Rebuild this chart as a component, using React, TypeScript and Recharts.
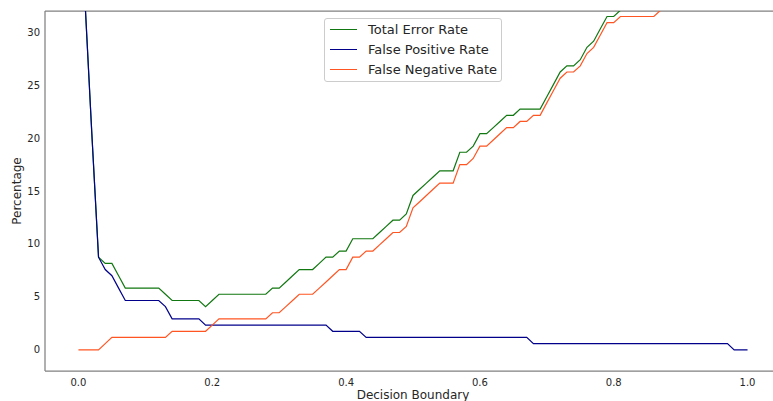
import { Legend, Line, LineChart, ReferenceLine, XAxis, YAxis } from "recharts";

const FONT = "'DejaVu Sans', sans-serif";
const TEXT = "#262626";
const SPINE = "#808080";

const COLORS = {
  total: "#117711",
  fpr: "#00008b",
  fnr: "#ff5522",
};

const SERIES_ORDER = ["Total Error Rate", "False Positive Rate", "False Negative Rate"];

const thresholds = [
  0, 0.01, 0.02, 0.03, 0.04, 0.05, 0.06, 0.07, 0.08, 0.09,
  0.1, 0.11, 0.12, 0.13, 0.14, 0.15, 0.16, 0.17, 0.18, 0.19,
  0.2, 0.21, 0.22, 0.23, 0.24, 0.25, 0.26, 0.27, 0.28, 0.29,
  0.3, 0.31, 0.32, 0.33, 0.34, 0.35, 0.36, 0.37, 0.38, 0.39,
  0.4, 0.41, 0.42, 0.43, 0.44, 0.45, 0.46, 0.47, 0.48, 0.49,
  0.5, 0.51, 0.52, 0.53, 0.54, 0.55, 0.56, 0.57, 0.58, 0.59,
  0.6, 0.61, 0.62, 0.63, 0.64, 0.65, 0.66, 0.67, 0.68, 0.69,
  0.7, 0.71, 0.72, 0.73, 0.74, 0.75, 0.76, 0.77, 0.78, 0.79,
  0.8, 0.81, 0.82, 0.83, 0.84, 0.85, 0.86, 0.87, 0.88, 0.89,
  0.9, 0.91, 0.92, 0.93, 0.94, 0.95, 0.96, 0.97, 0.98, 0.99,
  1.0,
];

const totalErrorRate = [
  100, 32.65, 20.41, 8.75, 8.16, 8.16, 7.0, 5.83, 5.83, 5.83,
  5.83, 5.83, 5.83, 5.25, 4.66, 4.66, 4.66, 4.66, 4.66, 4.08,
  4.66, 5.25, 5.25, 5.25, 5.25, 5.25, 5.25, 5.25, 5.25, 5.83,
  5.83, 6.41, 7.0, 7.58, 7.58, 7.58, 8.16, 8.75, 8.75, 9.33,
  9.33, 10.49, 10.49, 10.49, 10.49, 11.08, 11.66, 12.24, 12.24, 12.83,
  14.58, 15.16, 15.74, 16.32, 16.91, 16.91, 16.91, 18.66, 18.66, 19.24,
  20.41, 20.41, 20.99, 21.57, 22.15, 22.15, 22.74, 22.74, 22.74, 22.74,
  23.9, 25.07, 26.24, 26.82, 26.82, 27.4, 28.57, 29.15, 30.32, 31.48,
  31.48, 32.07, 32.07, 32.07, 32.07, 32.07, 32.07, 32.65, 33.81, 34.98,
  36.73, 38.48, 40.81, 43.73, 47.22, 51.89, 57.13, 63.55, 71.13, 81.62,
  100,
];

const falsePositiveRate = [
  100, 32.65, 20.41, 8.75, 7.58, 7.0, 5.83, 4.66, 4.66, 4.66,
  4.66, 4.66, 4.66, 4.08, 2.92, 2.92, 2.92, 2.92, 2.92, 2.33,
  2.33, 2.33, 2.33, 2.33, 2.33, 2.33, 2.33, 2.33, 2.33, 2.33,
  2.33, 2.33, 2.33, 2.33, 2.33, 2.33, 2.33, 2.33, 1.75, 1.75,
  1.75, 1.75, 1.75, 1.17, 1.17, 1.17, 1.17, 1.17, 1.17, 1.17,
  1.17, 1.17, 1.17, 1.17, 1.17, 1.17, 1.17, 1.17, 1.17, 1.17,
  1.17, 1.17, 1.17, 1.17, 1.17, 1.17, 1.17, 1.17, 0.58, 0.58,
  0.58, 0.58, 0.58, 0.58, 0.58, 0.58, 0.58, 0.58, 0.58, 0.58,
  0.58, 0.58, 0.58, 0.58, 0.58, 0.58, 0.58, 0.58, 0.58, 0.58,
  0.58, 0.58, 0.58, 0.58, 0.58, 0.58, 0.58, 0.58, 0, 0,
  0,
];

const falseNegativeRate = [
  0, 0, 0, 0, 0.58, 1.17, 1.17, 1.17, 1.17, 1.17,
  1.17, 1.17, 1.17, 1.17, 1.75, 1.75, 1.75, 1.75, 1.75, 1.75,
  2.33, 2.92, 2.92, 2.92, 2.92, 2.92, 2.92, 2.92, 2.92, 3.5,
  3.5, 4.08, 4.66, 5.25, 5.25, 5.25, 5.83, 6.41, 7.0, 7.58,
  7.58, 8.75, 8.75, 9.33, 9.33, 9.91, 10.49, 11.08, 11.08, 11.66,
  13.41, 13.99, 14.58, 15.16, 15.74, 15.74, 15.74, 17.49, 17.49, 18.07,
  19.24, 19.24, 19.82, 20.41, 20.99, 20.99, 21.57, 21.57, 22.15, 22.15,
  23.32, 24.49, 25.65, 26.24, 26.24, 26.82, 27.98, 28.57, 29.73, 30.9,
  30.9, 31.48, 31.48, 31.48, 31.48, 31.48, 31.48, 32.07, 33.23, 34.4,
  36.15, 37.9, 40.23, 43.14, 46.64, 51.3, 56.55, 62.96, 71.13, 81.62,
  100,
];

const xTicks = [0, 0.2, 0.4, 0.6, 0.8, 1.0];
const yTicks = [0, 5, 10, 15, 20, 25, 30];

const data = thresholds.map((x, i) => ({
  x,
  total: totalErrorRate[i],
  fpr: falsePositiveRate[i],
  fnr: falseNegativeRate[i],
}));

function LegendBox({ payload }: any) {
  const items = [...(payload ?? [])].sort(
    (a: any, b: any) => SERIES_ORDER.indexOf(a.value) - SERIES_ORDER.indexOf(b.value)
  );
  return (
    <div
      style={{
        border: "1px solid #cccccc",
        borderRadius: 3,
        background: "rgba(255,255,255,0.85)",
        padding: "1px 4px 2px 5px",
        fontFamily: FONT,
        fontSize: 13,
        color: TEXT,
      }}
    >
      {items.map((entry: any) => (
        <div key={entry.value} style={{ display: "flex", alignItems: "center", height: 19.7 }}>
          <span
            style={{
              display: "inline-block",
              width: 27,
              borderTop: `1.5px solid ${entry.color}`,
              marginRight: 11,
            }}
          />
          <span style={{ whiteSpace: "nowrap" }}>{entry.value}</span>
        </div>
      ))}
    </div>
  );
}

function XLabel({ viewBox }: any) {
  return (
    <text
      x={viewBox.x + viewBox.width / 2}
      y={viewBox.y + viewBox.height - 2}
      textAnchor="middle"
      fill={TEXT}
      fontSize={12}
      fontFamily={FONT}
    >
      Decision Boundary
    </text>
  );
}

function YLabel({ viewBox }: any) {
  const cx = viewBox.x + 17;
  const cy = viewBox.y + viewBox.height / 2;
  return (
    <text
      x={cx}
      y={cy}
      transform={`rotate(-90 ${cx} ${cy})`}
      textAnchor="middle"
      dominantBaseline="central"
      fill={TEXT}
      fontSize={12}
      fontFamily={FONT}
    >
      Percentage
    </text>
  );
}

export default function App() {
  return (
    <div
      style={{
        position: "fixed",
        left: 0,
        top: 0,
        width: 773,
        height: 401,
        overflow: "hidden",
        background: "#ffffff",
      }}
    >
      <LineChart width={790} height={401} data={data} margin={{ top: 11, right: 9, bottom: 0, left: 0 }}>
        <XAxis
          type="number"
          dataKey="x"
          domain={[-0.05, 1.05]}
          allowDataOverflow
          ticks={xTicks}
          tickFormatter={(v: number) => v.toFixed(1)}
          height={30}
          tickLine={false}
          tickSize={0}
          tickMargin={8}
          tick={{ fill: TEXT, fontSize: 10, fontFamily: FONT }}
          axisLine={{ stroke: SPINE, strokeWidth: 1.25 }}
          label={<XLabel />}
        />
        <YAxis
          type="number"
          domain={[-2, 32]}
          allowDataOverflow
          ticks={yTicks}
          width={45}
          tickLine={false}
          tickSize={0}
          tickMargin={5}
          tick={{ fill: TEXT, fontSize: 10, fontFamily: FONT }}
          axisLine={{ stroke: SPINE, strokeWidth: 1.25 }}
          label={<YLabel />}
        />
        <ReferenceLine y={32} stroke={SPINE} strokeWidth={1.25} ifOverflow="extendDomain" />
        <Legend
          layout="vertical"
          align="center"
          verticalAlign="middle"
          wrapperStyle={{ top: 18, left: 324, width: "auto" }}
          content={<LegendBox />}
        />
        <Line
          name="Total Error Rate"
          type="linear"
          dataKey="total"
          stroke={COLORS.total}
          strokeWidth={1.2}
          dot={false}
          activeDot={false}
          isAnimationActive={false}
        />
        <Line
          name="False Positive Rate"
          type="linear"
          dataKey="fpr"
          stroke={COLORS.fpr}
          strokeWidth={1.2}
          dot={false}
          activeDot={false}
          isAnimationActive={false}
        />
        <Line
          name="False Negative Rate"
          type="linear"
          dataKey="fnr"
          stroke={COLORS.fnr}
          strokeWidth={1.2}
          dot={false}
          activeDot={false}
          isAnimationActive={false}
        />
      </LineChart>
    </div>
  );
}
